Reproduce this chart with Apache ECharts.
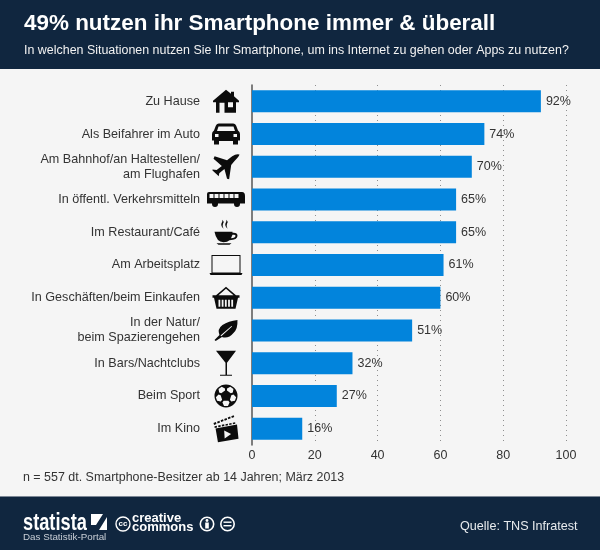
<!DOCTYPE html>
<html><head><meta charset="utf-8">
<style>html,body{margin:0;padding:0;background:#f5f5f5}#c{width:600px;height:550px}</style>
<script src="https://cdn.jsdelivr.net/npm/echarts@6/dist/echarts.min.js"></script>
</head><body><div id="c"></div>
<script>
const categories = ["Zu Hause","Als Beifahrer im Auto","Am Bahnhof/an Haltestellen/\nam Flughafen","In öffentl. Verkehrsmitteln","Im Restaurant/Café","Am Arbeitsplatz","In Geschäften/beim Einkaufen","In der Natur/\nbeim Spazierengehen","In Bars/Nachtclubs","Beim Sport","Im Kino"];
const values = [92,74,70,65,65,61,60,51,32,27,16];
const xTicks = [0,20,40,60,80,100];
const titleText = "49% nutzen ihr Smartphone immer & überall";
const subtitleText = "In welchen Situationen nutzen Sie Ihr Smartphone, um ins Internet zu gehen oder Apps zu nutzen?";
const noteText = "n = 557 dt. Smartphone-Besitzer ab 14 Jahren; März 2013";
const sourceText = "Quelle: TNS Infratest";

function ballPath(){
  const c=11.5, pt=(r,a)=>{const t=a*Math.PI/180;return (c+r*Math.cos(t)).toFixed(2)+' '+(c+r*Math.sin(t)).toFixed(2)};
  let d='M0 11.5 A11.5 11.5 0 1 1 23 11.5 A11.5 11.5 0 1 1 0 11.5 Z ';
  for(let k=0;k<5;k++){
    const m=-54+72*k;
    d+='M'+pt(5.4,m+26)+' L'+pt(7.6,m+28)+' L'+pt(10.2,m+11)+' L'+pt(10.2,m-11)+' L'+pt(7.6,m-28)+' L'+pt(5.4,m-26)+' Z ';
  }
  return d;
}
function slots(x0,n,w,g,y0,y1){let d='';for(let i=0;i<n;i++){const x=x0+i*(w+g);d+=`M${x} ${y0} L${x} ${y1} L${x+w} ${y1} L${x+w} ${y0} Z `;}return d;}
function clapStripes(){
  let d='';
  for(let i=0;i<6;i++){const x=0.2+i*3.6,y=7.6-i*1.4;d+=`M${x} ${y} L${x+2.4} ${y-1} L${x+3} ${y+0.8} L${x+0.6} ${y+1.8} Z `;}
  for(let i=0;i<6;i++){const x=1.2+i*3.7,y=10.8-i*0.72;d+=`M${x} ${y} L${x+2.4} ${y-0.5} L${x+2.6} ${y+1.1} L${x+0.2} ${y+1.6} Z `;}
  return d;
}
const icons = [
 {w:26,h:23,d:'M13 0 L18 4 L18 2 L21 2 L21 6.5 L26 11 L26 12.5 L23 12.5 L23 23 L3 23 L3 12.5 L0 12.5 L0 11 Z M6.5 13 L6.5 23 L11.5 23 L11.5 13 Z M15 12.5 L15 17.5 L20 17.5 L20 12.5 Z'},
 {w:28,h:21,d:'M7 0 L21 0 Q23.5 0 24.5 3 L26 7 Q28 8 28 10.5 L28 17 L26 17 L26 21 L21 21 L21 17.5 L7 17.5 L7 21 L2 21 L2 17 L0 17 L0 10.5 Q0 8 2 7 L3.5 3 Q4.5 0 7 0 Z M6.5 3 L5 7.5 L23 7.5 L21.5 3 Z M3 10.5 L3 13.5 L6.5 13.5 L6.5 10.5 Z M21.5 10.5 L21.5 13.5 L25 13.5 L25 10.5 Z'},
 {w:27,h:25,d:'M27 1 Q26.5 3 22 7.5 L19 11 L17 25 L15 24.5 L12.5 15 L7.5 19 L7 22 L5 20 L1 16.5 L1 15.5 L5 16 L10 12 L2 5 L3 2.5 L15 6.5 L20 2.5 Q24 0 27 1 Z'},
 {w:38,h:15,d:'M2 0 L35 0 Q38 0 38 4 L38 11.5 L0 11.5 L0 2 Q0 0 2 0 Z M5 9 A3 3 0 1 1 11 9 L11 12 A3 3 0 1 1 5 12 Z M27 9 A3 3 0 1 1 33 9 L33 12 A3 3 0 1 1 27 12 Z '+slots(2.5,6,4,1,2,6)},
 {w:23,h:25,d:'M0 12 L18 12 L18 13 Q23 12.5 23 16 Q23 20 15 20.5 Q13 22.5 9 22.5 Q2 22.5 0 12 Z M18 15 L16.5 18.5 Q21 18 21 16 Q21 14.5 18 15 Z M2 23.5 L17 23.5 L15 25 L4 25 Z M8 0 Q10 2 8.5 4 Q7.5 6 9 9 Q6 6 7 3.5 Q8 2 8 0 Z M12 0 Q14 2 12.5 4 Q11.5 6 13 9 Q10 6 11 3.5 Q12 2 12 0 Z'},
 {w:33,h:20,d:'M2 0 L31 0 L31 18 L33 18 L32 20 L1 20 L0 18 L2 18 Z M3 1 L3 17.5 L30 17.5 L30 1 Z'},
 {w:27,h:22,d:'M13.5 0 L23.5 8.5 L27 8.5 L27 11 L25.5 11 L23 22 L4 22 L1.5 11 L0 11 L0 8.5 L3.5 8.5 Z M13.5 2 L6 8.5 L21 8.5 Z '+slots(6,5,1.8,1.4,13,20)},
 {w:23,h:21,d:'M23 0 Q23.5 9 19 13 Q14 19 7.5 17 L1.2 21 L0 20 L5 15 Q2.5 9 8 5 Q14 1 23 0 Z M17 6 L6 15.6 L6.8 16.2 L17.6 6.6 Z'},
 {w:20,h:25,d:'M0 0 L20 0 L11 12 L11 24 L16 24 L16 25 L4 25 L4 24 L9.5 24 L9.5 12 Z'},
 {w:23,h:23,d:ballPath()},
 {w:25,h:27,d:'M2.3 13 L24 9 L25.5 23.3 L4.7 26.7 Z M11 15 L11.5 23 L18 18.5 Z '+clapStripes()}
];
const iconData = categories.map((c,i)=>({
  value:[0.5,c],
  symbol:'path://'+icons[i].d,
  symbolSize:[icons[i].w,icons[i].h]
}));

const chart = echarts.init(document.getElementById('c'),null,{renderer:'canvas'});
const FONT='"Liberation Sans", Arial, sans-serif';
chart.setOption({
  animation:false,
  backgroundColor:'#f5f5f5',
  textStyle:{fontFamily:FONT},
  grid:[
    {left:252,top:85,width:314,height:360,containLabel:false},
    {left:206,top:85,width:40,height:360}
  ],
  xAxis:[
    {gridIndex:0,type:'value',min:0,max:100,interval:20,
     axisLine:{show:false},axisTick:{show:false},
     axisLabel:{color:'#333',fontSize:12.5,margin:4,fontFamily:FONT,hideOverlap:false,
       formatter:v=>xTicks.includes(v)?String(v):''},
     splitLine:{show:true,showMinLine:false,lineStyle:{color:'#8f8f8f',type:[1,4],width:1}}},
    {gridIndex:1,type:'value',min:0,max:1,show:false}
  ],
  yAxis:[
    {gridIndex:0,type:'category',inverse:true,data:categories,
     axisLine:{show:true,lineStyle:{color:'#555',width:1.5}},axisTick:{show:false},
     axisLabel:{color:'#333',fontSize:12.6,margin:52,lineHeight:15,align:'right',fontFamily:FONT,interval:0},
     splitLine:{show:false}},
    {gridIndex:1,type:'category',inverse:true,data:categories,show:false}
  ],
  series:[
    {type:'bar',xAxisIndex:0,yAxisIndex:0,data:values,barWidth:22,
     itemStyle:{color:'#0284dc'},
     label:{show:true,position:'right',distance:5,formatter:'{c}%',color:'#333',fontSize:12.5,fontFamily:FONT}},
    {type:'scatter',xAxisIndex:1,yAxisIndex:1,data:iconData,itemStyle:{color:'#0c0c0c',opacity:1},silent:true}
  ],
  graphic:[
    {type:'rect',z:0,shape:{x:0,y:0,width:600,height:69},style:{fill:'#10263f'}},
    {type:'rect',z:0,shape:{x:0,y:497,width:600,height:53},style:{fill:'#10263f'}},
    {type:'rect',z:0,shape:{x:0,y:496,width:600,height:1},style:{fill:'#7d8896'}},
    {type:'text',z:1,x:24,y:13,style:{text:titleText,fill:'#fff',font:'bold 22.45px '+FONT}},
    {type:'text',z:1,x:24,y:45,style:{text:subtitleText,fill:'#f2f2f2',font:'12.45px '+FONT}},
    {type:'text',z:1,x:23,y:472,style:{text:noteText,fill:'#333',font:'12.45px '+FONT}},
    {type:'text',z:1,x:460,y:520,style:{text:sourceText,fill:'#e8ebee',font:'12.6px '+FONT}},
    {type:'text',z:1,x:23,y:511,scaleX:0.76,style:{text:'statista',fill:'#fff',font:'bold 24px '+FONT}},
    {type:'text',z:1,x:23,y:532,style:{text:'Das Statistik-Portal',fill:'#c8ced6',font:'9.8px '+FONT}},
    {type:'rect',z:1,shape:{x:91,y:514,width:16,height:16},style:{fill:'#fff'}},
    {type:'polygon',z:2,shape:{points:[[91,530],[91,525],[96,525],[103,514],[107,514],[107,517],[99,530]]},style:{fill:'#10263f'}},
    {type:'circle',z:1,shape:{cx:123,cy:524,r:7},style:{fill:'none',stroke:'#fff',lineWidth:1.4}},
    {type:'text',z:1,x:123,y:524,style:{text:'cc',fill:'#fff',font:'bold 8px '+FONT,align:'center',verticalAlign:'middle'}},
    {type:'text',z:1,x:132,y:512,style:{text:'creative',fill:'#fff',font:'bold 13px '+FONT}},
    {type:'text',z:1,x:132,y:521,style:{text:'commons',fill:'#fff',font:'bold 13px '+FONT}},
    {type:'circle',z:1,shape:{cx:207,cy:524,r:6.7},style:{fill:'none',stroke:'#fff',lineWidth:1.6}},
    {type:'circle',z:1,shape:{cx:207,cy:520.5,r:1.4},style:{fill:'#fff'}},
    {type:'rect',z:1,shape:{x:205.2,y:522.5,width:3.6,height:6},style:{fill:'#fff'}},
    {type:'circle',z:1,shape:{cx:227.5,cy:524,r:6.7},style:{fill:'none',stroke:'#fff',lineWidth:1.6}},
    {type:'rect',z:1,shape:{x:223.5,y:521.5,width:8,height:1.4},style:{fill:'#fff'}},
    {type:'rect',z:1,shape:{x:223.5,y:525,width:8,height:1.4},style:{fill:'#fff'}}
  ]
});
</script></body></html>
